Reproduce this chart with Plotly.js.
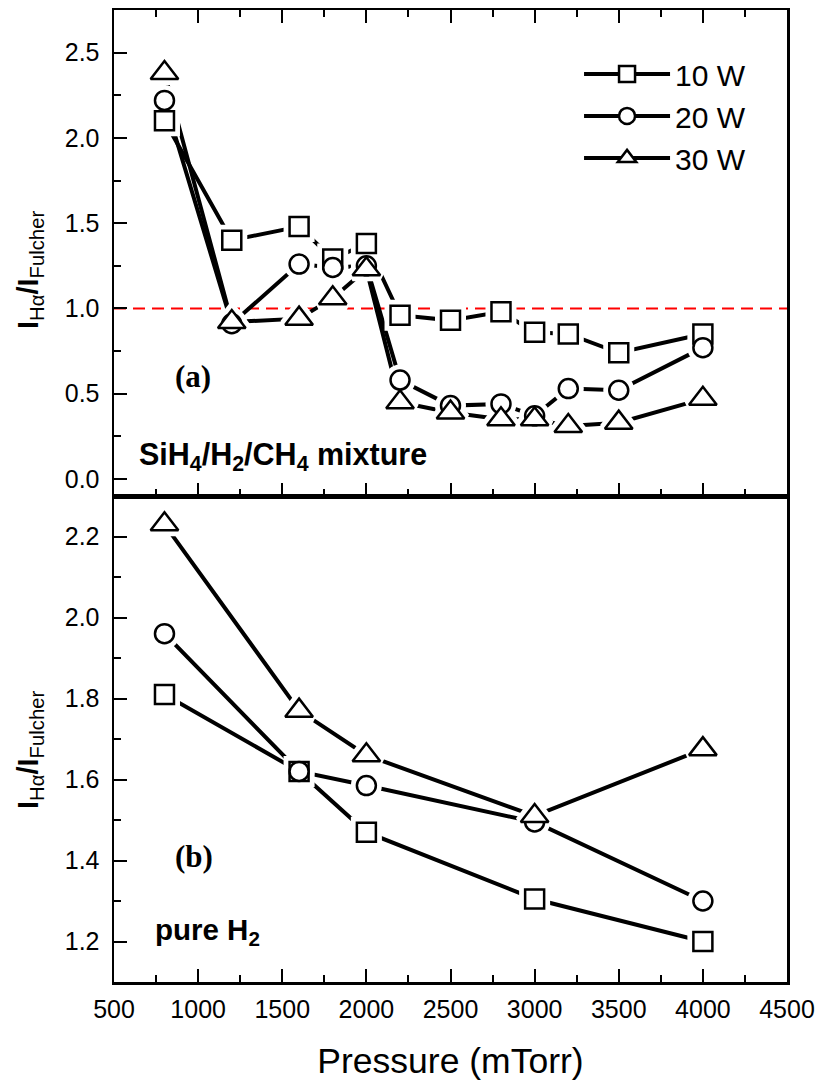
<!DOCTYPE html>
<html><head><meta charset="utf-8">
<script src="https://cdn.plot.ly/plotly-3.0.1.min.js"></script>
<style>html,body{margin:0;padding:0;background:#fff}</style>
</head><body><div id="chart" style="width:821px;height:1082px"></div>
<script>
// Panel (a): SiH4/H2/CH4 mixture
const xA = [800, 1200, 1600, 1800, 2000, 2200, 2500, 2800, 3000, 3200, 3500, 4000];
const a10W = [2.10, 1.40, 1.48, 1.29, 1.38, 0.96, 0.93, 0.98, 0.86, 0.85, 0.74, 0.85];
const a20W = [2.22, 0.91, 1.26, 1.24, 1.25, 0.58, 0.43, 0.44, 0.37, 0.53, 0.52, 0.77];
const a30W = [2.38, 0.92, 0.94, 1.06, 1.23, 0.45, 0.39, 0.35, 0.35, 0.31, 0.33, 0.47];
// Panel (b): pure H2
const xB = [800, 1600, 2000, 3000, 4000];
const b10W = [1.81, 1.62, 1.47, 1.305, 1.20];
const b20W = [1.96, 1.62, 1.585, 1.495, 1.30];
const b30W = [2.23, 1.77, 1.66, 1.51, 1.675];
const seriesNames = ['10 W', '20 W', '30 W'];
const xTicks = [500, 1000, 1500, 2000, 2500, 3000, 3500, 4000, 4500];

const symbols = ['square', 'circle', 'triangle-up'];
const sizes = [19, 19, 24];
const FONT = 'Liberation Sans, Arial, sans-serif';

function buildPanel(x, ys, xa, ya, legend) {
  const lines = [], halos = [], marks = [];
  ys.forEach((y, i) => {
    lines.push({x: x, y: y, xaxis: xa, yaxis: ya, mode: 'lines+markers', name: seriesNames[i],
      showlegend: legend, legendgroup: 'g' + i, cliponaxis: false,
      line: {color: '#000', width: 4},
      marker: {symbol: symbols[i], size: sizes[i], color: '#fff', line: {color: '#000', width: 2.5}}});
    halos.push({x: x, y: y, xaxis: xa, yaxis: ya, mode: 'markers', showlegend: false, hoverinfo: 'skip',
      cliponaxis: false,
      marker: {symbol: symbols[i], size: sizes[i], color: '#fff', line: {color: '#fff', width: 12}}});
    marks.push({x: x, y: y, xaxis: xa, yaxis: ya, mode: 'markers', showlegend: false, cliponaxis: false,
      marker: {symbol: symbols[i], size: sizes[i], color: '#fff', line: {color: '#000', width: 2.5}}});
  });
  return lines.concat(halos, marks);
}

const data = buildPanel(xA, [a10W, a20W, a30W], 'x', 'y', true)
  .concat(buildPanel(xB, [b10W, b20W, b30W], 'x2', 'y2', false));

const yTitle = '<b>I</b><sub>Hα</sub><b>/I</b><sub>Fulcher</sub>';
const axBase = {showline: true, linecolor: '#000', linewidth: 2.5, ticks: 'inside', ticklen: 13,
  tickwidth: 2, tickcolor: '#000', showgrid: false, zeroline: false,
  tickfont: {family: FONT, size: 25, color: '#000'}};

const layout = {
  width: 821, height: 1082,
  margin: {l: 114, r: 34, t: 10, b: 100},
  paper_bgcolor: '#fff', plot_bgcolor: '#fff',
  font: {family: FONT, color: '#000'},
  showlegend: true,
  legend: {x: 0.691, y: 0.961, xanchor: 'left', yanchor: 'top', bgcolor: 'rgba(0,0,0,0)',
    font: {family: FONT, size: 30, color: '#000'}, itemwidth: 86, traceorder: 'grouped', tracegroupgap: 0},
  xaxis: Object.assign({}, axBase, {domain: [0, 1], anchor: 'y', range: [500, 4500], tickvals: xTicks,
    showticklabels: false, mirror: 'allticks',
    minor: {dtick: 250, tick0: 500, ticks: 'inside', ticklen: 7, tickwidth: 2, tickcolor: '#000'}}),
  yaxis: Object.assign({}, axBase, {domain: [0.5, 1], anchor: 'x', range: [-0.1, 2.75], dtick: 0.5, tick0: 0,
    tickformat: '.1f', ticklabelstandoff: 7, mirror: true,
    minor: {dtick: 0.25, tick0: 0, ticks: 'inside', ticklen: 7, tickwidth: 2, tickcolor: '#000'}}),
  xaxis2: Object.assign({}, axBase, {domain: [0, 1], anchor: 'y2', range: [500, 4500], tickvals: xTicks,
    mirror: true, ticklabelstandoff: 3,
    minor: {dtick: 250, tick0: 500, ticks: 'inside', ticklen: 7, tickwidth: 2, tickcolor: '#000'},
    title: {text: 'Pressure (mTorr)', font: {family: FONT, size: 35.5, color: '#000'}, standoff: 27}}),
  yaxis2: Object.assign({}, axBase, {domain: [0, 0.5], anchor: 'x2', range: [1.1, 2.3], dtick: 0.2, tick0: 0,
    tickformat: '.1f', ticklabelstandoff: 7, mirror: true,
    minor: {dtick: 0.1, tick0: 0, ticks: 'inside', ticklen: 7, tickwidth: 2, tickcolor: '#000'}}),
  shapes: [{type: 'line', xref: 'x domain', x0: 0, x1: 1, yref: 'y', y0: 1, y1: 1,
    line: {color: '#ff0000', width: 2, dash: '12px,7px'}, layer: 'below'}],
  annotations: [
    {text: yTitle, xref: 'paper', x: -0.1248, xanchor: 'center', yref: 'paper', y: 0.7325, yanchor: 'middle',
      textangle: -90, showarrow: false, font: {family: FONT, size: 29, color: '#000'}},
    {text: yTitle, xref: 'paper', x: -0.1248, xanchor: 'center', yref: 'paper', y: 0.2387, yanchor: 'middle',
      textangle: -90, showarrow: false, font: {family: FONT, size: 29, color: '#000'}},
    {text: '(a)', xref: 'paper', x: 0.117, xanchor: 'center', yref: 'y', y: 0.60, yanchor: 'middle', showarrow: false,
      font: {family: 'Liberation Serif, Times New Roman, serif', size: 31, weight: 'bold', color: '#000'}},
    {text: '(b)', xref: 'paper', x: 0.119, xanchor: 'center', yref: 'y2', y: 1.41, yanchor: 'middle', showarrow: false,
      font: {family: 'Liberation Serif, Times New Roman, serif', size: 31, weight: 'bold', color: '#000'}},
    {text: 'SiH<sub>4</sub>/H<sub>2</sub>/CH<sub>4</sub> mixture', xref: 'paper', x: 0.034, xanchor: 'left',
      yref: 'y', y: 0.13, yanchor: 'middle', showarrow: false,
      font: {family: FONT, size: 30.5, weight: 'bold', color: '#000'}},
    {text: 'pure H<sub>2</sub>', xref: 'paper', x: 0.058, xanchor: 'left',
      yref: 'y2', y: 1.225, yanchor: 'middle', showarrow: false,
      font: {family: FONT, size: 29.5, weight: 'bold', color: '#000'}}
  ]
};

Plotly.newPlot('chart', data, layout, {displayModeBar: false, staticPlot: true});
</script>
</body></html>
